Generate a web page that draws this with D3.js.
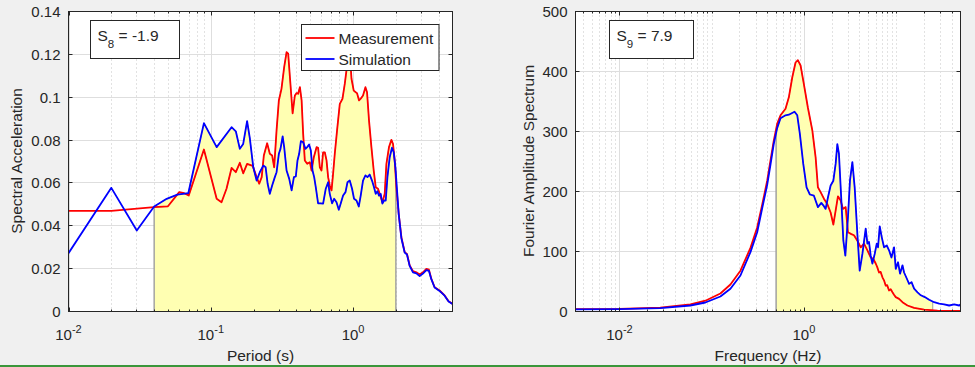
<!DOCTYPE html>
<html>
<head>
<meta charset="utf-8">
<script src="https://cdn.jsdelivr.net/npm/d3@7"></script>
<style>
  body { margin: 0; background: #f0f0f0; }
  svg { display: block; }
  text { font-family: "Liberation Sans", Arial, sans-serif; fill: #262626; }
</style>
</head>
<body>
<svg width="975" height="367"></svg>
<script>
// ---- data ----
// spectral acceleration, measurement (red)
const measPeriod = [0.01, 0.02, 0.04, 0.05, 0.06, 0.065, 0.07, 0.0895, 0.110, 0.119, 0.129, 0.140, 0.150, 0.160, 0.169, 0.180, 0.197, 0.210, 0.219, 0.228, 0.236, 0.249, 0.260, 0.270, 0.279, 0.290, 0.301, 0.314, 0.328, 0.341, 0.350, 0.360, 0.376, 0.390, 0.401, 0.411, 0.423, 0.435, 0.446, 0.458, 0.476, 0.497, 0.511, 0.530, 0.554, 0.568, 0.584, 0.600, 0.616, 0.633, 0.651, 0.668, 0.686, 0.706, 0.724, 0.744, 0.772, 0.807, 0.843, 0.875, 0.899, 0.948, 0.975, 1.011, 1.045, 1.067, 1.102, 1.132, 1.175, 1.222, 1.254, 1.295, 1.346, 1.397, 1.443, 1.498, 1.540, 1.608, 1.669, 1.716, 1.789, 1.860, 1.909, 1.962, 2.016, 2.093, 2.186, 2.306, 2.393, 2.500, 2.637, 2.786, 2.938, 3.099, 3.274, 3.414, 3.549, 3.744, 4.058, 4.400, 4.694, 5.0]
const measSA = [0.047, 0.047, 0.0487, 0.0491, 0.0557, 0.0552, 0.0541, 0.0756, 0.0526, 0.051, 0.0573, 0.067, 0.065, 0.0694, 0.0645, 0.0689, 0.068, 0.0627, 0.0596, 0.0627, 0.0728, 0.0785, 0.0736, 0.0728, 0.0673, 0.0845, 0.0985, 0.1039, 0.114, 0.121, 0.1203, 0.1093, 0.0925, 0.1008, 0.1019, 0.1016, 0.1047, 0.0985, 0.0829, 0.0705, 0.0689, 0.0697, 0.0658, 0.072, 0.0767, 0.0764, 0.0673, 0.0658, 0.0743, 0.0743, 0.0705, 0.0627, 0.0588, 0.0565, 0.0643, 0.0736, 0.0845, 0.0969, 0.0993, 0.1063, 0.1125, 0.121, 0.1086, 0.1031, 0.1023, 0.1019, 0.0985, 0.0993, 0.1008, 0.1047, 0.1023, 0.0891, 0.0767, 0.0658, 0.058, 0.0573, 0.0549, 0.051, 0.0549, 0.0689, 0.0767, 0.0801, 0.0782, 0.0705, 0.058, 0.0456, 0.0347, 0.0277, 0.0269, 0.0215, 0.0188, 0.0183, 0.0173, 0.0183, 0.0199, 0.0195, 0.0153, 0.0113, 0.0098, 0.0075, 0.0048, 0.0036]

// spectral acceleration, simulation (blue)
const simPeriod = [0.01, 0.02, 0.0302, 0.04, 0.049, 0.0582, 0.0695, 0.0895, 0.110, 0.140, 0.150, 0.160, 0.169, 0.180, 0.188, 0.199, 0.210, 0.221, 0.234, 0.243, 0.251, 0.260, 0.270, 0.282, 0.290, 0.301, 0.309, 0.320, 0.328, 0.341, 0.356, 0.370, 0.384, 0.396, 0.407, 0.418, 0.430, 0.446, 0.463, 0.476, 0.491, 0.505, 0.519, 0.533, 0.547, 0.568, 0.591, 0.616, 0.643, 0.668, 0.686, 0.712, 0.736, 0.765, 0.794, 0.820, 0.851, 0.885, 0.914, 0.948, 0.984, 1.016, 1.057, 1.097, 1.132, 1.175, 1.222, 1.262, 1.309, 1.359, 1.404, 1.443, 1.483, 1.522, 1.564, 1.608, 1.651, 1.697, 1.744, 1.810, 1.878, 1.931, 1.985, 2.093, 2.186, 2.306, 2.393, 2.500, 2.637, 2.786, 2.938, 3.099, 3.274, 3.414, 3.549, 3.744, 4.058, 4.400, 4.694, 5.0]
const simSA = [0.0272, 0.0577, 0.0378, 0.049, 0.0526, 0.0545, 0.0552, 0.0879, 0.0767, 0.086, 0.0841, 0.0759, 0.0782, 0.0888, 0.081, 0.0673, 0.0611, 0.065, 0.0681, 0.0673, 0.0596, 0.0549, 0.0588, 0.0627, 0.065, 0.0736, 0.0759, 0.0817, 0.0767, 0.0658, 0.0619, 0.0565, 0.0627, 0.063, 0.0705, 0.0736, 0.0795, 0.079, 0.0759, 0.0767, 0.0779, 0.0751, 0.0658, 0.0627, 0.058, 0.0505, 0.0505, 0.0503, 0.0573, 0.0603, 0.0549, 0.0505, 0.0526, 0.051, 0.0475, 0.0505, 0.0541, 0.0557, 0.0603, 0.0611, 0.0573, 0.0526, 0.0518, 0.049, 0.0541, 0.0611, 0.0635, 0.0627, 0.0639, 0.0611, 0.058, 0.0549, 0.0561, 0.0541, 0.0549, 0.0503, 0.0518, 0.0518, 0.0627, 0.072, 0.0764, 0.0743, 0.0673, 0.0456, 0.0342, 0.0275, 0.0266, 0.0213, 0.0183, 0.0178, 0.0165, 0.0177, 0.0193, 0.019, 0.0151, 0.0112, 0.0096, 0.0074, 0.0047, 0.0035]

// Fourier amplitude spectrum, measurement (red)
const measFreq = [0.00333, 0.01, 0.0277, 0.0587, 0.0854, 0.1243, 0.1597, 0.2051, 0.2634, 0.3115, 0.3531, 0.4001, 0.4345, 0.4721, 0.514, 0.5581, 0.6324, 0.6871, 0.748, 0.8124, 0.8605, 0.9209, 1.0, 1.105, 1.235, 1.341, 1.420, 1.519, 1.650, 1.796, 1.951, 2.088, 2.211, 2.342, 2.506, 2.655, 2.840, 3.008, 3.276, 3.495, 3.806, 4.134, 4.490, 4.889, 5.309, 5.65, 6.016, 6.25, 6.535, 6.8, 7.116, 7.4, 7.727, 8.0, 8.393, 8.75, 9.142, 9.5, 9.925, 10.78, 11.74, 13.3, 15.7, 20.15, 28.18, 42.7, 50]
const measFAS = [4, 4.5, 6.5, 12, 18, 30, 45, 68, 106, 140, 178, 218, 252, 285, 313, 327, 338, 357, 390, 415, 419, 410, 379, 340, 302, 257, 207, 199, 188, 179, 165, 145, 168, 192, 185, 171, 174, 132, 129, 127, 118, 107, 113, 102, 90, 88, 80, 74, 65, 66, 57, 52, 43, 44, 35, 37, 32, 28, 24, 21, 15.5, 10, 6, 3, 1.5, 1, 1]

// Fourier amplitude spectrum, simulation (blue)
const simFreq = [0.00333, 0.01, 0.0277, 0.0587, 0.0854, 0.1243, 0.1597, 0.2051, 0.2634, 0.3115, 0.3531, 0.4001, 0.4345, 0.4721, 0.514, 0.5581, 0.6324, 0.6871, 0.7923, 0.8479, 0.9048, 0.9851, 1.070, 1.162, 1.285, 1.420, 1.546, 1.625, 1.722, 1.824, 1.951, 2.088, 2.211, 2.307, 2.401, 2.550, 2.681, 2.818, 3.008, 3.162, 3.358, 3.557, 3.806, 4.032, 4.314, 4.685, 4.889, 5.087, 5.309, 5.539, 5.868, 6.171, 6.374, 6.652, 6.991, 7.407, 7.925, 8.393, 8.913, 9.513, 9.925, 10.51, 11.05, 11.74, 12.22, 13.07, 13.85, 14.71, 15.7, 17.09, 18.56, 20.51, 22.85, 25.88, 29.34, 33.25, 37.68, 42.7, 48.4, 50]
const simFAS = [3.5, 4, 5.5, 10, 15, 25, 38, 60, 99, 132, 172, 211, 245, 280, 306, 322, 327, 328, 333, 327, 296, 246, 207, 195, 193, 174, 181, 177, 171, 190, 210, 218, 246, 279, 263, 185, 118, 93, 157, 218, 249, 207, 129, 68, 96, 138, 113, 116, 93, 80, 96, 113, 107, 142, 124, 107, 110, 102, 90, 107, 71, 82, 63, 77, 65, 55, 46, 49, 38, 32, 27, 24, 19.5, 15.5, 13, 12, 10, 12, 10, 12]

// axis ticks and labels
const saTicks = [0, 0.02, 0.04, 0.06, 0.08, 0.1, 0.12, 0.14]
const fasTicks = [0, 100, 200, 300, 400, 500]
const periodTicks = [0.01, 0.1, 1]
const freqTicks = [0.01, 1]
const periodBand = [0.04, 2]
const freqBand = [0.5, 25]
const seriesNames = ["Measurement", "Simulation"]
const seriesColors = ["#ff0000", "#0000ff"]

const svg = d3.select("svg")

// bottom edge of the screenshot
svg.append("rect").attr("x", 0).attr("y", 365).attr("width", 975).attr("height", 2).attr("fill", "#3a963a")

// points of a curve inside a band, with the ends found on the curve itself
function bandPoints(xs, ys, lo, hi) {
    const pts = []
    const at = v => {
        const i = d3.bisectLeft(xs, v)
        if (xs[i] === v || i === 0) return ys[i]
        const t = (Math.log(v) - Math.log(xs[i - 1])) / (Math.log(xs[i]) - Math.log(xs[i - 1]))
        return ys[i - 1] + t * (ys[i] - ys[i - 1])
    }
    pts.push([lo, at(lo)])
    xs.forEach((v, i) => { if (v > lo && v < hi) pts.push([v, ys[i]]) })
    pts.push([hi, at(hi)])
    return pts
}

function drawPanel(cfg) {
    const g = svg.append("g")
    const x = d3.scaleLog().domain(cfg.xDomain).range([cfg.left, cfg.right])
    const y = d3.scaleLinear().domain(cfg.yDomain).range([311.5, 11.5])
    const [x0, x1] = x.range()
    const [y0, y1] = y.range()

    g.append("rect").attr("x", x0).attr("y", y1).attr("width", x1 - x0).attr("height", y0 - y1).attr("fill", "#fff")

    // minor grid on the log axis
    const minor = []
    for (let n = Math.floor(Math.log10(cfg.xDomain[0])); n <= Math.ceil(Math.log10(cfg.xDomain[1])); n++) {
        for (let k = 1; k <= 9; k++) {
            const v = k * Math.pow(10, n)
            if (v > cfg.xDomain[0] * 1.001 && v < cfg.xDomain[1] * 0.999 && !cfg.xTicks.some(t => Math.abs(t - v) < v * 1e-6)) minor.push(v)
        }
    }
    g.selectAll(".mgrid").data(minor).join("line")
        .attr("x1", d => Math.round(x(d)) + 0.5).attr("x2", d => Math.round(x(d)) + 0.5)
        .attr("y1", y1).attr("y2", y0)
        .attr("stroke", "#c4c4c4").attr("stroke-dasharray", "1,3")

    g.selectAll(".xgrid").data(cfg.xTicks).join("line")
        .attr("x1", d => Math.round(x(d)) + 0.5).attr("x2", d => Math.round(x(d)) + 0.5)
        .attr("y1", y1).attr("y2", y0).attr("stroke", "#dedede")
    g.selectAll(".ygrid").data(cfg.yTicks).join("line")
        .attr("x1", x0).attr("x2", x1)
        .attr("y1", d => Math.round(y(d) - 0.5) + 0.5).attr("y2", d => Math.round(y(d) - 0.5) + 0.5)
        .attr("stroke", "#dedede")

    // shaded band under both curves
    const area = d3.area().x(d => x(d[0])).y0(y(0)).y1(d => y(d[1]))
    const bands = cfg.series.map(s => bandPoints(s.xs, s.ys, cfg.band[0], cfg.band[1]))
    g.selectAll(".band").data(bands).join("path")
        .attr("d", area).attr("fill", "#ffffb2")
    g.selectAll(".bandEdge").data(bands).join("path")
        .attr("d", area).attr("fill", "none").attr("stroke", "#a0a0a0").attr("stroke-width", 1)

    // curves
    const clipId = "clip" + cfg.left
    g.append("clipPath").attr("id", clipId).append("rect")
        .attr("x", x0).attr("y", y1 - 2).attr("width", x1 - x0 + 2).attr("height", y0 - y1 + 4)
    const line = d3.line().x(d => x(d[0])).y(d => y(d[1]))
    g.selectAll(".curve").data(cfg.series).join("path")
        .attr("clip-path", `url(#${clipId})`)
        .attr("d", s => line(s.xs.map((v, i) => [v, s.ys[i]])))
        .attr("fill", "none").attr("stroke", (s, i) => seriesColors[i])
        .attr("stroke-width", 1.8).attr("stroke-linejoin", "round")

    // box and ticks
    g.append("rect").attr("x", x0).attr("y", y1).attr("width", x1 - x0).attr("height", y0 - y1)
        .attr("fill", "none").attr("stroke", "#262626")
    const tk = []
    cfg.yTicks.forEach(v => {
        const yy = Math.round(y(v) - 0.5) + 0.5
        tk.push([x0, yy, x0 + 4, yy], [x1, yy, x1 - 4, yy])
    })
    cfg.xTicks.forEach(v => {
        const xx = Math.round(x(v)) + 0.5
        tk.push([xx, y0, xx, y0 - 4], [xx, y1, xx, y1 + 4])
    })
    minor.forEach(v => {
        const xx = Math.round(x(v)) + 0.5
        tk.push([xx, y0, xx, y0 - 2], [xx, y1, xx, y1 + 2])
    })
    g.selectAll(".tick").data(tk).join("line")
        .attr("x1", d => d[0]).attr("y1", d => d[1]).attr("x2", d => d[2]).attr("y2", d => d[3])
        .attr("stroke", "#262626")

    // tick labels
    g.selectAll(".ytl").data(cfg.yTicks).join("text")
        .attr("x", x0 - 8).attr("y", d => y(d) + 5.5)
        .attr("text-anchor", "end").attr("font-size", 15)
        .text(d => String(+d.toFixed(2)))
    g.selectAll(".xtl").data(cfg.xTicks).join("text")
        .attr("x", d => x(d)).attr("y", 339.5)
        .attr("text-anchor", "middle").attr("font-size", 15)
        .each(function(d) {
            const t = d3.select(this)
            t.append("tspan").text("10")
            t.append("tspan").attr("dy", -7).attr("font-size", 11).text(String(Math.round(Math.log10(d))))
        })

    // axis titles
    g.append("text").attr("x", (x0 + x1) / 2).attr("y", 361)
        .attr("text-anchor", "middle").attr("font-size", 15.5).text(cfg.xLabel)
    g.append("text").attr("transform", `translate(${cfg.yLabelX},161) rotate(-90)`)
        .attr("text-anchor", "middle").attr("font-size", 15.5).text(cfg.yLabel)

    // score box
    g.append("rect").attr("x", cfg.note.x + 0.5).attr("y", 20.5).attr("width", cfg.note.w).attr("height", 38)
        .attr("fill", "#fff").attr("stroke", "#262626")
    const nt = g.append("text").attr("x", cfg.note.x + 7.5).attr("y", 40.5).attr("font-size", 15.5)
    nt.append("tspan").text("S")
    nt.append("tspan").attr("dy", 7.5).attr("font-size", 11.5).text(cfg.note.sub)
    nt.append("tspan").attr("dy", -7.5).text(" = " + cfg.note.value)

    return { g, x, y }
}

const left = drawPanel({
    xDomain: [0.01, 5], yDomain: [0, 0.14], left: 68.5, right: 452.5,
    xTicks: periodTicks, yTicks: saTicks, band: periodBand,
    series: [{ xs: measPeriod, ys: measSA }, { xs: simPeriod, ys: simSA }],
    xLabel: "Period (s)", yLabel: "Spectral Acceleration", yLabelX: 21.5,
    note: { x: 90, w: 89, sub: "8", value: "-1.9" }
})

drawPanel({
    xDomain: [1 / 300, 50], yDomain: [0, 500], left: 575.5, right: 960.5,
    xTicks: freqTicks, yTicks: fasTicks, band: freqBand,
    series: [{ xs: measFreq, ys: measFAS }, { xs: simFreq, ys: simFAS }],
    xLabel: "Frequency (Hz)", yLabel: "Fourier Amplitude Spectrum", yLabelX: 534,
    note: { x: 609, w: 84, sub: "9", value: "7.9" }
})

// legend on the left panel
const lg = left.g.append("g")
lg.append("rect").attr("x", 301.5).attr("y", 24.5).attr("width", 137.5).attr("height", 46)
    .attr("fill", "#fff").attr("stroke", "#262626")
seriesNames.forEach((name, i) => {
    const yy = 38 + i * 21
    lg.append("line").attr("x1", 305.5).attr("x2", 334.5).attr("y1", yy).attr("y2", yy)
        .attr("stroke", seriesColors[i]).attr("stroke-width", 1.8)
    lg.append("text").attr("x", 338.5).attr("y", yy + 5.5).attr("font-size", 15.5).text(name)
})
</script>
</body>
</html>
